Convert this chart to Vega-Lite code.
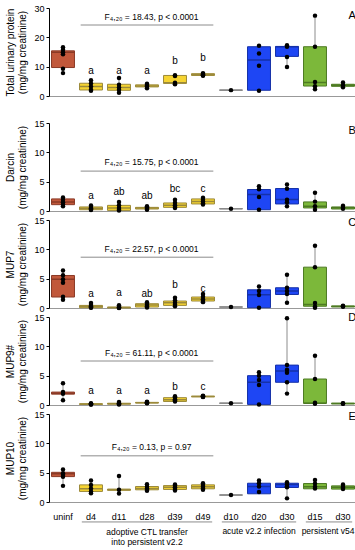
{
  "$schema": "https://vega.github.io/schema/vega-lite/v6.json",
  "padding": {"left": 5, "top": 4, "right": 2, "bottom": 2},
  "config": {
    "view": {"stroke": null},
    "font": "Liberation Sans",
    "axis": {"labelFont": "Liberation Sans", "titleFont": "Liberation Sans", "labelFontSize": 9, "titleFontSize": 10, "titleFontWeight": "normal", "labelColor": "#000", "titleColor": "#000", "grid": false, "domainColor": "#000", "tickColor": "#000", "tickSize": 3, "labelPadding": 2, "titlePadding": 6, "labelOverlap": false, "labelFlush": false},
    "axisY": {"tickCount": 3},
    "text": {"font": "Liberation Sans", "color": "#000"}
  },
  "datasets": {
    "box": [
      {"panel": "A", "grp": "uninf", "lo": 7.8, "q1": 9.7, "med": 14.9, "q3": 15.4, "hi": 16.6},
      {"panel": "A", "grp": "d4", "lo": 1.8, "q1": 2.05, "med": 3.2, "q3": 4.35, "hi": 5.4},
      {"panel": "A", "grp": "d11", "lo": 1.1, "q1": 1.95, "med": 2.9, "q3": 4.0, "hi": 6.1},
      {"panel": "A", "grp": "d28", "lo": 2.6, "q1": 3.1, "med": 3.4, "q3": 3.8, "hi": 4.2},
      {"panel": "A", "grp": "d39", "lo": 4.0, "q1": 4.3, "med": 4.5, "q3": 7.0, "hi": 7.1},
      {"panel": "A", "grp": "d49", "lo": 6.9, "q1": 7.0, "med": 7.3, "q3": 7.6, "hi": 7.8},
      {"panel": "A", "grp": "a_d10", "lo": 2.0, "q1": 2.0, "med": 2.0, "q3": 2.0, "hi": 2.0},
      {"panel": "A", "grp": "a_d20", "lo": 1.8, "q1": 1.95, "med": 12.3, "q3": 16.8, "hi": 17.1},
      {"panel": "A", "grp": "a_d30", "lo": 9.9, "q1": 13.5, "med": 16.8, "q3": 16.9, "hi": 17.3},
      {"panel": "A", "grp": "p_d15", "lo": 2.3, "q1": 3.4, "med": 4.6, "q3": 16.8, "hi": 27.4},
      {"panel": "A", "grp": "p_d30", "lo": 2.95, "q1": 3.3, "med": 3.7, "q3": 4.0, "hi": 4.6},
      {"panel": "B", "grp": "uninf", "lo": 0.8, "q1": 1.08, "med": 1.55, "q3": 2.06, "hi": 2.3},
      {"panel": "B", "grp": "d4", "lo": 0.15, "q1": 0.22, "med": 0.45, "q3": 0.69, "hi": 0.95},
      {"panel": "B", "grp": "d11", "lo": 0.1, "q1": 0.1, "med": 0.5, "q3": 0.96, "hi": 1.55},
      {"panel": "B", "grp": "d28", "lo": 0.2, "q1": 0.34, "med": 0.5, "q3": 0.62, "hi": 0.8},
      {"panel": "B", "grp": "d39", "lo": 0.5, "q1": 0.62, "med": 1.0, "q3": 1.37, "hi": 1.9},
      {"panel": "B", "grp": "d49", "lo": 1.1, "q1": 1.2, "med": 1.6, "q3": 2.06, "hi": 2.25},
      {"panel": "B", "grp": "a_d10", "lo": 0.4, "q1": 0.4, "med": 0.4, "q3": 0.4, "hi": 0.4},
      {"panel": "B", "grp": "a_d20", "lo": 0.2, "q1": 0.22, "med": 2.8, "q3": 3.66, "hi": 4.2},
      {"panel": "B", "grp": "a_d30", "lo": 0.8, "q1": 1.2, "med": 1.94, "q3": 3.83, "hi": 4.5},
      {"panel": "B", "grp": "p_d15", "lo": 0.2, "q1": 0.52, "med": 0.8, "q3": 1.55, "hi": 3.1},
      {"panel": "B", "grp": "p_d30", "lo": 0.3, "q1": 0.34, "med": 0.55, "q3": 0.69, "hi": 0.9},
      {"panel": "C", "grp": "uninf", "lo": 1.4, "q1": 1.87, "med": 4.9, "q3": 5.54, "hi": 6.4},
      {"panel": "C", "grp": "d4", "lo": 0.05, "q1": 0.05, "med": 0.25, "q3": 0.44, "hi": 0.85},
      {"panel": "C", "grp": "d11", "lo": 0.0, "q1": 0.03, "med": 0.08, "q3": 0.15, "hi": 0.45},
      {"panel": "C", "grp": "d28", "lo": 0.1, "q1": 0.17, "med": 0.5, "q3": 0.73, "hi": 1.0},
      {"panel": "C", "grp": "d39", "lo": 0.3, "q1": 0.44, "med": 0.9, "q3": 1.19, "hi": 1.75},
      {"panel": "C", "grp": "d49", "lo": 1.0, "q1": 1.19, "med": 1.55, "q3": 1.87, "hi": 2.4},
      {"panel": "C", "grp": "a_d10", "lo": 0.17, "q1": 0.17, "med": 0.17, "q3": 0.17, "hi": 0.17},
      {"panel": "C", "grp": "a_d20", "lo": 0.05, "q1": 0.05, "med": 2.26, "q3": 3.1, "hi": 3.67},
      {"panel": "C", "grp": "a_d30", "lo": 0.9, "q1": 2.3, "med": 2.9, "q3": 3.45, "hi": 5.65},
      {"panel": "C", "grp": "p_d15", "lo": 0.05, "q1": 0.3, "med": 0.6, "q3": 6.96, "hi": 10.6},
      {"panel": "C", "grp": "p_d30", "lo": 0.15, "q1": 0.2, "med": 0.27, "q3": 0.35, "hi": 0.4},
      {"panel": "D", "grp": "uninf", "lo": 0.8, "q1": 1.85, "med": 2.0, "q3": 2.2, "hi": 3.7},
      {"panel": "D", "grp": "d4", "lo": 0.1, "q1": 0.1, "med": 0.15, "q3": 0.2, "hi": 0.3},
      {"panel": "D", "grp": "d11", "lo": 0.1, "q1": 0.15, "med": 0.2, "q3": 0.3, "hi": 0.5},
      {"panel": "D", "grp": "d28", "lo": 0.3, "q1": 0.35, "med": 0.4, "q3": 0.45, "hi": 0.55},
      {"panel": "D", "grp": "d39", "lo": 0.55, "q1": 0.6, "med": 0.9, "q3": 1.25, "hi": 1.5},
      {"panel": "D", "grp": "d49", "lo": 1.35, "q1": 1.4, "med": 1.45, "q3": 1.5, "hi": 1.6},
      {"panel": "D", "grp": "a_d10", "lo": 0.3, "q1": 0.3, "med": 0.3, "q3": 0.3, "hi": 0.3},
      {"panel": "D", "grp": "a_d20", "lo": 0.1, "q1": 0.1, "med": 3.87, "q3": 5.0, "hi": 5.57},
      {"panel": "D", "grp": "a_d30", "lo": 1.94, "q1": 3.87, "med": 5.8, "q3": 6.8, "hi": 14.8},
      {"panel": "D", "grp": "p_d15", "lo": 0.2, "q1": 0.3, "med": 0.3, "q3": 4.43, "hi": 8.4},
      {"panel": "D", "grp": "p_d30", "lo": 0.2, "q1": 0.2, "med": 0.25, "q3": 0.3, "hi": 0.3},
      {"panel": "E", "grp": "uninf", "lo": 2.75, "q1": 4.33, "med": 4.8, "q3": 5.06, "hi": 5.56},
      {"panel": "E", "grp": "d4", "lo": 1.5, "q1": 1.8, "med": 2.25, "q3": 2.92, "hi": 3.65},
      {"panel": "E", "grp": "d11", "lo": 1.46, "q1": 2.0, "med": 2.1, "q3": 2.2, "hi": 4.44},
      {"panel": "E", "grp": "d28", "lo": 1.9, "q1": 2.08, "med": 2.3, "q3": 2.64, "hi": 3.03},
      {"panel": "E", "grp": "d39", "lo": 1.95, "q1": 2.14, "med": 2.5, "q3": 2.8, "hi": 3.0},
      {"panel": "E", "grp": "d49", "lo": 2.1, "q1": 2.25, "med": 2.6, "q3": 2.92, "hi": 3.2},
      {"panel": "E", "grp": "a_d10", "lo": 1.18, "q1": 1.18, "med": 1.18, "q3": 1.18, "hi": 1.18},
      {"panel": "E", "grp": "a_d20", "lo": 1.4, "q1": 1.4, "med": 2.64, "q3": 3.2, "hi": 3.65},
      {"panel": "E", "grp": "a_d30", "lo": 0.62, "q1": 2.47, "med": 3.0, "q3": 3.2, "hi": 3.37},
      {"panel": "E", "grp": "p_d15", "lo": 2.2, "q1": 2.25, "med": 2.6, "q3": 3.15, "hi": 3.76},
      {"panel": "E", "grp": "p_d30", "lo": 2.2, "q1": 2.2, "med": 2.5, "q3": 2.75, "hi": 3.0}
    ],
    "pts": [
      {"panel": "A", "grp": "uninf", "v": 16.6}, {"panel": "A", "grp": "uninf", "v": 15.8}, {"panel": "A", "grp": "uninf", "v": 14.9}, {"panel": "A", "grp": "uninf", "v": 14.2}, {"panel": "A", "grp": "uninf", "v": 9.3}, {"panel": "A", "grp": "uninf", "v": 7.8},
      {"panel": "A", "grp": "d4", "v": 5.4}, {"panel": "A", "grp": "d4", "v": 4.3}, {"panel": "A", "grp": "d4", "v": 3.2}, {"panel": "A", "grp": "d4", "v": 2.1}, {"panel": "A", "grp": "d4", "v": 1.8},
      {"panel": "A", "grp": "d11", "v": 6.1}, {"panel": "A", "grp": "d11", "v": 3.8}, {"panel": "A", "grp": "d11", "v": 2.9}, {"panel": "A", "grp": "d11", "v": 2.1}, {"panel": "A", "grp": "d11", "v": 1.1},
      {"panel": "A", "grp": "d28", "v": 4.2}, {"panel": "A", "grp": "d28", "v": 3.8}, {"panel": "A", "grp": "d28", "v": 3.5}, {"panel": "A", "grp": "d28", "v": 3.2}, {"panel": "A", "grp": "d28", "v": 2.6},
      {"panel": "A", "grp": "d39", "v": 7.1}, {"panel": "A", "grp": "d39", "v": 6.8}, {"panel": "A", "grp": "d39", "v": 4.5}, {"panel": "A", "grp": "d39", "v": 4.2}, {"panel": "A", "grp": "d39", "v": 4.0},
      {"panel": "A", "grp": "d49", "v": 7.8}, {"panel": "A", "grp": "d49", "v": 7.5}, {"panel": "A", "grp": "d49", "v": 7.3}, {"panel": "A", "grp": "d49", "v": 7.1}, {"panel": "A", "grp": "d49", "v": 6.9},
      {"panel": "A", "grp": "a_d10", "v": 2.0},
      {"panel": "A", "grp": "a_d20", "v": 17.1}, {"panel": "A", "grp": "a_d20", "v": 14.5}, {"panel": "A", "grp": "a_d20", "v": 10.3}, {"panel": "A", "grp": "a_d20", "v": 1.8},
      {"panel": "A", "grp": "a_d30", "v": 17.3}, {"panel": "A", "grp": "a_d30", "v": 16.8}, {"panel": "A", "grp": "a_d30", "v": 13.3}, {"panel": "A", "grp": "a_d30", "v": 9.9},
      {"panel": "A", "grp": "p_d15", "v": 27.4}, {"panel": "A", "grp": "p_d15", "v": 16.8}, {"panel": "A", "grp": "p_d15", "v": 4.8}, {"panel": "A", "grp": "p_d15", "v": 3.3}, {"panel": "A", "grp": "p_d15", "v": 2.3},
      {"panel": "A", "grp": "p_d30", "v": 4.6}, {"panel": "A", "grp": "p_d30", "v": 3.7}, {"panel": "A", "grp": "p_d30", "v": 2.95},
      {"panel": "B", "grp": "uninf", "v": 2.3}, {"panel": "B", "grp": "uninf", "v": 1.9}, {"panel": "B", "grp": "uninf", "v": 1.5}, {"panel": "B", "grp": "uninf", "v": 1.1}, {"panel": "B", "grp": "uninf", "v": 0.8},
      {"panel": "B", "grp": "d4", "v": 0.95}, {"panel": "B", "grp": "d4", "v": 0.7}, {"panel": "B", "grp": "d4", "v": 0.45}, {"panel": "B", "grp": "d4", "v": 0.25}, {"panel": "B", "grp": "d4", "v": 0.15},
      {"panel": "B", "grp": "d11", "v": 1.55}, {"panel": "B", "grp": "d11", "v": 1.0}, {"panel": "B", "grp": "d11", "v": 0.5}, {"panel": "B", "grp": "d11", "v": 0.2}, {"panel": "B", "grp": "d11", "v": 0.1},
      {"panel": "B", "grp": "d28", "v": 0.8}, {"panel": "B", "grp": "d28", "v": 0.6}, {"panel": "B", "grp": "d28", "v": 0.5}, {"panel": "B", "grp": "d28", "v": 0.35}, {"panel": "B", "grp": "d28", "v": 0.2},
      {"panel": "B", "grp": "d39", "v": 1.9}, {"panel": "B", "grp": "d39", "v": 1.4}, {"panel": "B", "grp": "d39", "v": 1.0}, {"panel": "B", "grp": "d39", "v": 0.7}, {"panel": "B", "grp": "d39", "v": 0.5},
      {"panel": "B", "grp": "d49", "v": 2.25}, {"panel": "B", "grp": "d49", "v": 1.9}, {"panel": "B", "grp": "d49", "v": 1.6}, {"panel": "B", "grp": "d49", "v": 1.3}, {"panel": "B", "grp": "d49", "v": 1.1},
      {"panel": "B", "grp": "a_d10", "v": 0.4},
      {"panel": "B", "grp": "a_d20", "v": 4.2}, {"panel": "B", "grp": "a_d20", "v": 3.7}, {"panel": "B", "grp": "a_d20", "v": 2.4}, {"panel": "B", "grp": "a_d20", "v": 0.2},
      {"panel": "B", "grp": "a_d30", "v": 4.5}, {"panel": "B", "grp": "a_d30", "v": 3.8}, {"panel": "B", "grp": "a_d30", "v": 1.9}, {"panel": "B", "grp": "a_d30", "v": 1.5}, {"panel": "B", "grp": "a_d30", "v": 0.8},
      {"panel": "B", "grp": "p_d15", "v": 3.1}, {"panel": "B", "grp": "p_d15", "v": 1.6}, {"panel": "B", "grp": "p_d15", "v": 0.8}, {"panel": "B", "grp": "p_d15", "v": 0.2},
      {"panel": "B", "grp": "p_d30", "v": 0.9}, {"panel": "B", "grp": "p_d30", "v": 0.6}, {"panel": "B", "grp": "p_d30", "v": 0.4},
      {"panel": "C", "grp": "uninf", "v": 6.4}, {"panel": "C", "grp": "uninf", "v": 5.6}, {"panel": "C", "grp": "uninf", "v": 4.9}, {"panel": "C", "grp": "uninf", "v": 4.3}, {"panel": "C", "grp": "uninf", "v": 1.9}, {"panel": "C", "grp": "uninf", "v": 1.4},
      {"panel": "C", "grp": "d4", "v": 0.85}, {"panel": "C", "grp": "d4", "v": 0.5}, {"panel": "C", "grp": "d4", "v": 0.3}, {"panel": "C", "grp": "d4", "v": 0.1}, {"panel": "C", "grp": "d4", "v": 0.05},
      {"panel": "C", "grp": "d11", "v": 0.45}, {"panel": "C", "grp": "d11", "v": 0.2}, {"panel": "C", "grp": "d11", "v": 0.1}, {"panel": "C", "grp": "d11", "v": 0.05}, {"panel": "C", "grp": "d11", "v": 0.0},
      {"panel": "C", "grp": "d28", "v": 1.0}, {"panel": "C", "grp": "d28", "v": 0.7}, {"panel": "C", "grp": "d28", "v": 0.5}, {"panel": "C", "grp": "d28", "v": 0.3}, {"panel": "C", "grp": "d28", "v": 0.1},
      {"panel": "C", "grp": "d39", "v": 1.75}, {"panel": "C", "grp": "d39", "v": 1.3}, {"panel": "C", "grp": "d39", "v": 0.9}, {"panel": "C", "grp": "d39", "v": 0.6}, {"panel": "C", "grp": "d39", "v": 0.3},
      {"panel": "C", "grp": "d49", "v": 2.4}, {"panel": "C", "grp": "d49", "v": 1.9}, {"panel": "C", "grp": "d49", "v": 1.5}, {"panel": "C", "grp": "d49", "v": 1.2}, {"panel": "C", "grp": "d49", "v": 1.0},
      {"panel": "C", "grp": "a_d10", "v": 0.17},
      {"panel": "C", "grp": "a_d20", "v": 3.67}, {"panel": "C", "grp": "a_d20", "v": 2.9}, {"panel": "C", "grp": "a_d20", "v": 2.2}, {"panel": "C", "grp": "a_d20", "v": 0.05},
      {"panel": "C", "grp": "a_d30", "v": 5.65}, {"panel": "C", "grp": "a_d30", "v": 3.45}, {"panel": "C", "grp": "a_d30", "v": 2.9}, {"panel": "C", "grp": "a_d30", "v": 2.4}, {"panel": "C", "grp": "a_d30", "v": 0.9},
      {"panel": "C", "grp": "p_d15", "v": 10.6}, {"panel": "C", "grp": "p_d15", "v": 6.96}, {"panel": "C", "grp": "p_d15", "v": 0.85}, {"panel": "C", "grp": "p_d15", "v": 0.25}, {"panel": "C", "grp": "p_d15", "v": 0.05},
      {"panel": "C", "grp": "p_d30", "v": 0.4}, {"panel": "C", "grp": "p_d30", "v": 0.3}, {"panel": "C", "grp": "p_d30", "v": 0.2},
      {"panel": "D", "grp": "uninf", "v": 3.7}, {"panel": "D", "grp": "uninf", "v": 2.2}, {"panel": "D", "grp": "uninf", "v": 1.9}, {"panel": "D", "grp": "uninf", "v": 0.8},
      {"panel": "D", "grp": "d4", "v": 0.3}, {"panel": "D", "grp": "d4", "v": 0.2}, {"panel": "D", "grp": "d4", "v": 0.15}, {"panel": "D", "grp": "d4", "v": 0.1}, {"panel": "D", "grp": "d4", "v": 0.1},
      {"panel": "D", "grp": "d11", "v": 0.5}, {"panel": "D", "grp": "d11", "v": 0.3}, {"panel": "D", "grp": "d11", "v": 0.2}, {"panel": "D", "grp": "d11", "v": 0.15}, {"panel": "D", "grp": "d11", "v": 0.1},
      {"panel": "D", "grp": "d28", "v": 0.55}, {"panel": "D", "grp": "d28", "v": 0.45}, {"panel": "D", "grp": "d28", "v": 0.4}, {"panel": "D", "grp": "d28", "v": 0.35}, {"panel": "D", "grp": "d28", "v": 0.3},
      {"panel": "D", "grp": "d39", "v": 1.5}, {"panel": "D", "grp": "d39", "v": 1.3}, {"panel": "D", "grp": "d39", "v": 1.0}, {"panel": "D", "grp": "d39", "v": 0.8}, {"panel": "D", "grp": "d39", "v": 0.6},
      {"panel": "D", "grp": "d49", "v": 1.6}, {"panel": "D", "grp": "d49", "v": 1.5}, {"panel": "D", "grp": "d49", "v": 1.45}, {"panel": "D", "grp": "d49", "v": 1.4}, {"panel": "D", "grp": "d49", "v": 1.35},
      {"panel": "D", "grp": "a_d10", "v": 0.3},
      {"panel": "D", "grp": "a_d20", "v": 5.57}, {"panel": "D", "grp": "a_d20", "v": 5.0}, {"panel": "D", "grp": "a_d20", "v": 4.26}, {"panel": "D", "grp": "a_d20", "v": 3.4}, {"panel": "D", "grp": "a_d20", "v": 0.1},
      {"panel": "D", "grp": "a_d30", "v": 14.8}, {"panel": "D", "grp": "a_d30", "v": 6.8}, {"panel": "D", "grp": "a_d30", "v": 6.0}, {"panel": "D", "grp": "a_d30", "v": 5.5}, {"panel": "D", "grp": "a_d30", "v": 3.87}, {"panel": "D", "grp": "a_d30", "v": 1.94},
      {"panel": "D", "grp": "p_d15", "v": 8.4}, {"panel": "D", "grp": "p_d15", "v": 4.43}, {"panel": "D", "grp": "p_d15", "v": 0.4}, {"panel": "D", "grp": "p_d15", "v": 0.2},
      {"panel": "D", "grp": "p_d30", "v": 0.3}, {"panel": "D", "grp": "p_d30", "v": 0.25}, {"panel": "D", "grp": "p_d30", "v": 0.2},
      {"panel": "E", "grp": "uninf", "v": 5.56}, {"panel": "E", "grp": "uninf", "v": 4.9}, {"panel": "E", "grp": "uninf", "v": 4.6}, {"panel": "E", "grp": "uninf", "v": 4.3}, {"panel": "E", "grp": "uninf", "v": 2.75},
      {"panel": "E", "grp": "d4", "v": 3.65}, {"panel": "E", "grp": "d4", "v": 2.9}, {"panel": "E", "grp": "d4", "v": 2.3}, {"panel": "E", "grp": "d4", "v": 1.8}, {"panel": "E", "grp": "d4", "v": 1.5},
      {"panel": "E", "grp": "d11", "v": 4.44}, {"panel": "E", "grp": "d11", "v": 2.1}, {"panel": "E", "grp": "d11", "v": 1.46},
      {"panel": "E", "grp": "d28", "v": 3.03}, {"panel": "E", "grp": "d28", "v": 2.6}, {"panel": "E", "grp": "d28", "v": 2.3}, {"panel": "E", "grp": "d28", "v": 2.1}, {"panel": "E", "grp": "d28", "v": 1.9},
      {"panel": "E", "grp": "d39", "v": 3.0}, {"panel": "E", "grp": "d39", "v": 2.8}, {"panel": "E", "grp": "d39", "v": 2.5}, {"panel": "E", "grp": "d39", "v": 2.2}, {"panel": "E", "grp": "d39", "v": 1.95},
      {"panel": "E", "grp": "d49", "v": 3.2}, {"panel": "E", "grp": "d49", "v": 2.9}, {"panel": "E", "grp": "d49", "v": 2.6}, {"panel": "E", "grp": "d49", "v": 2.3}, {"panel": "E", "grp": "d49", "v": 2.1},
      {"panel": "E", "grp": "a_d10", "v": 1.18},
      {"panel": "E", "grp": "a_d20", "v": 3.65}, {"panel": "E", "grp": "a_d20", "v": 3.2}, {"panel": "E", "grp": "a_d20", "v": 2.64}, {"panel": "E", "grp": "a_d20", "v": 1.7},
      {"panel": "E", "grp": "a_d30", "v": 3.37}, {"panel": "E", "grp": "a_d30", "v": 3.0}, {"panel": "E", "grp": "a_d30", "v": 2.7}, {"panel": "E", "grp": "a_d30", "v": 2.5}, {"panel": "E", "grp": "a_d30", "v": 0.62},
      {"panel": "E", "grp": "p_d15", "v": 3.76}, {"panel": "E", "grp": "p_d15", "v": 3.15}, {"panel": "E", "grp": "p_d15", "v": 2.6}, {"panel": "E", "grp": "p_d15", "v": 2.3},
      {"panel": "E", "grp": "p_d30", "v": 3.0}, {"panel": "E", "grp": "p_d30", "v": 2.6}, {"panel": "E", "grp": "p_d30", "v": 2.4}, {"panel": "E", "grp": "p_d30", "v": 2.2}
    ],
    "sig": [
      {"panel": "A", "grp": "d4", "t": "a", "y": 8.5}, {"panel": "A", "grp": "d11", "t": "a", "y": 8.5}, {"panel": "A", "grp": "d28", "t": "a", "y": 8.5}, {"panel": "A", "grp": "d39", "t": "b", "y": 11.8}, {"panel": "A", "grp": "d49", "t": "b", "y": 13.1},
      {"panel": "B", "grp": "d4", "t": "a", "y": 2.6}, {"panel": "B", "grp": "d11", "t": "ab", "y": 3.3}, {"panel": "B", "grp": "d28", "t": "ab", "y": 2.5}, {"panel": "B", "grp": "d39", "t": "bc", "y": 3.8}, {"panel": "B", "grp": "d49", "t": "c", "y": 3.8},
      {"panel": "C", "grp": "d4", "t": "a", "y": 2.4}, {"panel": "C", "grp": "d11", "t": "a", "y": 2.55}, {"panel": "C", "grp": "d28", "t": "ab", "y": 2.4}, {"panel": "C", "grp": "d39", "t": "b", "y": 3.85}, {"panel": "C", "grp": "d49", "t": "c", "y": 3.3},
      {"panel": "D", "grp": "d4", "t": "a", "y": 2.4}, {"panel": "D", "grp": "d11", "t": "a", "y": 2.4}, {"panel": "D", "grp": "d28", "t": "a", "y": 2.4}, {"panel": "D", "grp": "d39", "t": "b", "y": 3.1}, {"panel": "D", "grp": "d49", "t": "c", "y": 3.1}
    ],
    "stat": [
      {"panel": "A", "start": "d4", "end": "d49", "mid": "d28", "yl": 24.2, "yt": 26.8, "label": "F₄,₂₀ = 18.43, p < 0.0001"},
      {"panel": "B", "start": "d4", "end": "d49", "mid": "d28", "yl": 6.8, "yt": 8.35, "label": "F₄,₂₀ = 15.75, p < 0.0001"},
      {"panel": "C", "start": "d4", "end": "d49", "mid": "d28", "yl": 8.66, "yt": 10.1, "label": "F₄,₂₀ = 22.57, p < 0.0001"},
      {"panel": "D", "start": "d4", "end": "d49", "mid": "d28", "yl": 7.5, "yt": 8.9, "label": "F₄,₂₀ = 61.11, p < 0.0001"},
      {"panel": "E", "start": "d4", "end": "d49", "mid": "d28", "yl": 7.87, "yt": 9.4, "label": "F₄,₂₀ = 0.13, p = 0.97"}
    ],
    "plet": [
      {"panel": "A", "grp": "p_d30", "t": "A", "y": 27.3},
      {"panel": "B", "grp": "p_d30", "t": "B", "y": 13.6},
      {"panel": "C", "grp": "p_d30", "t": "C", "y": 14.5},
      {"panel": "D", "grp": "p_d30", "t": "D", "y": 14.8},
      {"panel": "E", "grp": "p_d30", "t": "E", "y": 14.5}
    ],
    "groups": [
      {"label": "adoptive CTL transfer\ninto persistent v2.2", "start": "d4", "end": "d49", "mid": "d28", "yl": -3.4, "yt": -4.4},
      {"label": "acute v2.2 infection", "start": "a_d10", "end": "a_d30", "mid": "a_d20", "yl": -3.4, "yt": -4.2},
      {"label": "persistent v54", "start": "p_d15", "end": "p_d30", "mid": "p_d15", "yl": -3.4, "yt": -4.2}
    ]
  },
  "vconcat": [
    {
      "width": 308, "height": 88,
      "layer": [
        {"data": {"name": "box"}, "transform": [{"filter": "datum.panel === 'A'"}], "mark": {"type": "rule", "color": "#8c8c8c", "strokeWidth": 1},
         "encoding": {"x": {"field": "grp", "type": "nominal", "sort": null, "scale": {"domain": ["uninf","d4","d11","d28","d39","d49","a_d10","a_d20","a_d30","p_d15","p_d30"], "paddingInner": 0.18, "paddingOuter": 0.09}, "axis": {"labels": false, "ticks": false, "domainColor": "#999", "title": null}},
                      "y": {"field": "lo", "type": "quantitative", "scale": {"domain": [0, 30], "nice": false}, "axis": {"tickCount": 3, "labelOverlap": false, "title": ["Total urinary protein", "(mg/mg creatinine)"]}},
                      "y2": {"field": "hi"}}},
        {"data": {"name": "box"}, "transform": [{"filter": "datum.panel === 'A'"}], "mark": {"type": "bar", "strokeWidth": 1},
         "encoding": {"x": {"field": "grp", "type": "nominal"}, "y": {"field": "q1", "type": "quantitative"}, "y2": {"field": "q3"},
                      "fill": {"field": "grp", "type": "nominal", "legend": null, "scale": {"domain": ["uninf","d4","d11","d28","d39","d49","a_d10","a_d20","a_d30","p_d15","p_d30"], "range": ["#c1583b","#f6d432","#f6d432","#f6d432","#f6d432","#f6d432","#9a9a9a","#1e46f4","#1e46f4","#7cb83a","#7cb83a"]}},
                      "stroke": {"field": "grp", "type": "nominal", "legend": null, "scale": {"domain": ["uninf","d4","d11","d28","d39","d49","a_d10","a_d20","a_d30","p_d15","p_d30"], "range": ["#8b3a26","#9c8a3a","#9c8a3a","#9c8a3a","#9c8a3a","#9c8a3a","#8a8a8a","#1531a8","#1531a8","#4d7a22","#4d7a22"]}}}},
        {"data": {"name": "box"}, "transform": [{"filter": "datum.panel === 'A'"}], "mark": {"type": "bar", "fillOpacity": 0, "strokeWidth": 1.5},
         "encoding": {"x": {"field": "grp", "type": "nominal"}, "y": {"field": "med", "type": "quantitative"}, "y2": {"field": "med"},
                      "stroke": {"field": "grp", "type": "nominal", "legend": null}}},
        {"data": {"name": "pts"}, "transform": [{"filter": "datum.panel === 'A'"}], "mark": {"type": "point", "filled": true, "color": "#000", "opacity": 1, "size": 20},
         "encoding": {"x": {"field": "grp", "type": "nominal"}, "y": {"field": "v", "type": "quantitative"}}},
        {"data": {"name": "sig"}, "transform": [{"filter": "datum.panel === 'A'"}], "mark": {"type": "text", "fontSize": 10, "baseline": "middle"},
         "encoding": {"x": {"field": "grp", "type": "nominal"}, "y": {"field": "y", "type": "quantitative"}, "text": {"field": "t"}}},
        {"data": {"name": "stat"}, "transform": [{"filter": "datum.panel === 'A'"}], "mark": {"type": "rule", "color": "#8c8c8c", "strokeWidth": 1},
         "encoding": {"x": {"field": "start", "type": "nominal", "bandPosition": 0.05}, "x2": {"field": "end", "bandPosition": 0.95}, "y": {"field": "yl", "type": "quantitative"}}},
        {"data": {"name": "stat"}, "transform": [{"filter": "datum.panel === 'A'"}], "mark": {"type": "text", "fontSize": 8.5, "baseline": "middle", "align": "center"},
         "encoding": {"x": {"field": "mid", "type": "nominal", "bandPosition": 0.7}, "y": {"field": "yt", "type": "quantitative"}, "text": {"field": "label"}}},
        {"data": {"name": "plet"}, "transform": [{"filter": "datum.panel === 'A'"}], "mark": {"type": "text", "fontSize": 11, "baseline": "middle", "align": "center"},
         "encoding": {"x": {"field": "grp", "type": "nominal", "bandPosition": 0.9}, "y": {"field": "y", "type": "quantitative"}, "text": {"field": "t"}}}
      ]
    },
    {
      "spacing": 9,
      "bounds": "flush",
      "vconcat": [
        {
          "width": 308, "height": 88,
          "layer": [
            {"data": {"name": "box"}, "transform": [{"filter": "datum.panel === 'B'"}], "mark": {"type": "rule", "color": "#8c8c8c", "strokeWidth": 1},
             "encoding": {"x": {"field": "grp", "type": "nominal", "sort": null, "scale": {"domain": ["uninf","d4","d11","d28","d39","d49","a_d10","a_d20","a_d30","p_d15","p_d30"], "paddingInner": 0.18, "paddingOuter": 0.09}, "axis": {"labels": false, "ticks": false, "domainColor": "#999", "title": null}},
                          "y": {"field": "lo", "type": "quantitative", "scale": {"domain": [0, 15], "nice": false}, "axis": {"tickCount": 3, "labelOverlap": false, "title": ["Darcin", "(mg/mg creatinine)"]}},
                          "y2": {"field": "hi"}}},
            {"data": {"name": "box"}, "transform": [{"filter": "datum.panel === 'B'"}], "mark": {"type": "bar", "strokeWidth": 1},
             "encoding": {"x": {"field": "grp", "type": "nominal"}, "y": {"field": "q1", "type": "quantitative"}, "y2": {"field": "q3"},
                          "fill": {"field": "grp", "type": "nominal", "legend": null, "scale": {"domain": ["uninf","d4","d11","d28","d39","d49","a_d10","a_d20","a_d30","p_d15","p_d30"], "range": ["#c1583b","#f6d432","#f6d432","#f6d432","#f6d432","#f6d432","#9a9a9a","#1e46f4","#1e46f4","#7cb83a","#7cb83a"]}},
                          "stroke": {"field": "grp", "type": "nominal", "legend": null, "scale": {"domain": ["uninf","d4","d11","d28","d39","d49","a_d10","a_d20","a_d30","p_d15","p_d30"], "range": ["#8b3a26","#9c8a3a","#9c8a3a","#9c8a3a","#9c8a3a","#9c8a3a","#8a8a8a","#1531a8","#1531a8","#4d7a22","#4d7a22"]}}}},
            {"data": {"name": "box"}, "transform": [{"filter": "datum.panel === 'B'"}], "mark": {"type": "bar", "fillOpacity": 0, "strokeWidth": 1.5},
             "encoding": {"x": {"field": "grp", "type": "nominal"}, "y": {"field": "med", "type": "quantitative"}, "y2": {"field": "med"},
                          "stroke": {"field": "grp", "type": "nominal", "legend": null}}},
            {"data": {"name": "pts"}, "transform": [{"filter": "datum.panel === 'B'"}], "mark": {"type": "point", "filled": true, "color": "#000", "opacity": 1, "size": 20},
             "encoding": {"x": {"field": "grp", "type": "nominal"}, "y": {"field": "v", "type": "quantitative"}}},
            {"data": {"name": "sig"}, "transform": [{"filter": "datum.panel === 'B'"}], "mark": {"type": "text", "fontSize": 10, "baseline": "middle"},
             "encoding": {"x": {"field": "grp", "type": "nominal"}, "y": {"field": "y", "type": "quantitative"}, "text": {"field": "t"}}},
            {"data": {"name": "stat"}, "transform": [{"filter": "datum.panel === 'B'"}], "mark": {"type": "rule", "color": "#8c8c8c", "strokeWidth": 1},
             "encoding": {"x": {"field": "start", "type": "nominal", "bandPosition": 0.05}, "x2": {"field": "end", "bandPosition": 0.95}, "y": {"field": "yl", "type": "quantitative"}}},
            {"data": {"name": "stat"}, "transform": [{"filter": "datum.panel === 'B'"}], "mark": {"type": "text", "fontSize": 8.5, "baseline": "middle", "align": "center"},
             "encoding": {"x": {"field": "mid", "type": "nominal", "bandPosition": 0.7}, "y": {"field": "yt", "type": "quantitative"}, "text": {"field": "label"}}},
            {"data": {"name": "plet"}, "transform": [{"filter": "datum.panel === 'B'"}], "mark": {"type": "text", "fontSize": 11, "baseline": "middle", "align": "center"},
             "encoding": {"x": {"field": "grp", "type": "nominal", "bandPosition": 0.9}, "y": {"field": "y", "type": "quantitative"}, "text": {"field": "t"}}}
          ]
        },
        {
          "width": 308, "height": 88,
          "layer": [
            {"data": {"name": "box"}, "transform": [{"filter": "datum.panel === 'C'"}], "mark": {"type": "rule", "color": "#8c8c8c", "strokeWidth": 1},
             "encoding": {"x": {"field": "grp", "type": "nominal", "sort": null, "scale": {"domain": ["uninf","d4","d11","d28","d39","d49","a_d10","a_d20","a_d30","p_d15","p_d30"], "paddingInner": 0.18, "paddingOuter": 0.09}, "axis": {"labels": false, "ticks": false, "domainColor": "#999", "title": null}},
                          "y": {"field": "lo", "type": "quantitative", "scale": {"domain": [0, 15], "nice": false}, "axis": {"tickCount": 3, "labelOverlap": false, "title": ["MUP7", "(mg/mg creatinine)"]}},
                          "y2": {"field": "hi"}}},
            {"data": {"name": "box"}, "transform": [{"filter": "datum.panel === 'C'"}], "mark": {"type": "bar", "strokeWidth": 1},
             "encoding": {"x": {"field": "grp", "type": "nominal"}, "y": {"field": "q1", "type": "quantitative"}, "y2": {"field": "q3"},
                          "fill": {"field": "grp", "type": "nominal", "legend": null, "scale": {"domain": ["uninf","d4","d11","d28","d39","d49","a_d10","a_d20","a_d30","p_d15","p_d30"], "range": ["#c1583b","#f6d432","#f6d432","#f6d432","#f6d432","#f6d432","#9a9a9a","#1e46f4","#1e46f4","#7cb83a","#7cb83a"]}},
                          "stroke": {"field": "grp", "type": "nominal", "legend": null, "scale": {"domain": ["uninf","d4","d11","d28","d39","d49","a_d10","a_d20","a_d30","p_d15","p_d30"], "range": ["#8b3a26","#9c8a3a","#9c8a3a","#9c8a3a","#9c8a3a","#9c8a3a","#8a8a8a","#1531a8","#1531a8","#4d7a22","#4d7a22"]}}}},
            {"data": {"name": "box"}, "transform": [{"filter": "datum.panel === 'C'"}], "mark": {"type": "bar", "fillOpacity": 0, "strokeWidth": 1.5},
             "encoding": {"x": {"field": "grp", "type": "nominal"}, "y": {"field": "med", "type": "quantitative"}, "y2": {"field": "med"},
                          "stroke": {"field": "grp", "type": "nominal", "legend": null}}},
            {"data": {"name": "pts"}, "transform": [{"filter": "datum.panel === 'C'"}], "mark": {"type": "point", "filled": true, "color": "#000", "opacity": 1, "size": 20},
             "encoding": {"x": {"field": "grp", "type": "nominal"}, "y": {"field": "v", "type": "quantitative"}}},
            {"data": {"name": "sig"}, "transform": [{"filter": "datum.panel === 'C'"}], "mark": {"type": "text", "fontSize": 10, "baseline": "middle"},
             "encoding": {"x": {"field": "grp", "type": "nominal"}, "y": {"field": "y", "type": "quantitative"}, "text": {"field": "t"}}},
            {"data": {"name": "stat"}, "transform": [{"filter": "datum.panel === 'C'"}], "mark": {"type": "rule", "color": "#8c8c8c", "strokeWidth": 1},
             "encoding": {"x": {"field": "start", "type": "nominal", "bandPosition": 0.05}, "x2": {"field": "end", "bandPosition": 0.95}, "y": {"field": "yl", "type": "quantitative"}}},
            {"data": {"name": "stat"}, "transform": [{"filter": "datum.panel === 'C'"}], "mark": {"type": "text", "fontSize": 8.5, "baseline": "middle", "align": "center"},
             "encoding": {"x": {"field": "mid", "type": "nominal", "bandPosition": 0.7}, "y": {"field": "yt", "type": "quantitative"}, "text": {"field": "label"}}},
            {"data": {"name": "plet"}, "transform": [{"filter": "datum.panel === 'C'"}], "mark": {"type": "text", "fontSize": 11, "baseline": "middle", "align": "center"},
             "encoding": {"x": {"field": "grp", "type": "nominal", "bandPosition": 0.9}, "y": {"field": "y", "type": "quantitative"}, "text": {"field": "t"}}}
          ]
        },
        {
          "width": 308, "height": 88,
          "layer": [
            {"data": {"name": "box"}, "transform": [{"filter": "datum.panel === 'D'"}], "mark": {"type": "rule", "color": "#8c8c8c", "strokeWidth": 1},
             "encoding": {"x": {"field": "grp", "type": "nominal", "sort": null, "scale": {"domain": ["uninf","d4","d11","d28","d39","d49","a_d10","a_d20","a_d30","p_d15","p_d30"], "paddingInner": 0.18, "paddingOuter": 0.09}, "axis": {"labels": false, "ticks": false, "domainColor": "#999", "title": null}},
                          "y": {"field": "lo", "type": "quantitative", "scale": {"domain": [0, 15], "nice": false}, "axis": {"tickCount": 3, "labelOverlap": false, "title": ["MUP9#", "(mg/mg creatinine)"]}},
                          "y2": {"field": "hi"}}},
            {"data": {"name": "box"}, "transform": [{"filter": "datum.panel === 'D'"}], "mark": {"type": "bar", "strokeWidth": 1},
             "encoding": {"x": {"field": "grp", "type": "nominal"}, "y": {"field": "q1", "type": "quantitative"}, "y2": {"field": "q3"},
                          "fill": {"field": "grp", "type": "nominal", "legend": null, "scale": {"domain": ["uninf","d4","d11","d28","d39","d49","a_d10","a_d20","a_d30","p_d15","p_d30"], "range": ["#c1583b","#f6d432","#f6d432","#f6d432","#f6d432","#f6d432","#9a9a9a","#1e46f4","#1e46f4","#7cb83a","#7cb83a"]}},
                          "stroke": {"field": "grp", "type": "nominal", "legend": null, "scale": {"domain": ["uninf","d4","d11","d28","d39","d49","a_d10","a_d20","a_d30","p_d15","p_d30"], "range": ["#8b3a26","#9c8a3a","#9c8a3a","#9c8a3a","#9c8a3a","#9c8a3a","#8a8a8a","#1531a8","#1531a8","#4d7a22","#4d7a22"]}}}},
            {"data": {"name": "box"}, "transform": [{"filter": "datum.panel === 'D'"}], "mark": {"type": "bar", "fillOpacity": 0, "strokeWidth": 1.5},
             "encoding": {"x": {"field": "grp", "type": "nominal"}, "y": {"field": "med", "type": "quantitative"}, "y2": {"field": "med"},
                          "stroke": {"field": "grp", "type": "nominal", "legend": null}}},
            {"data": {"name": "pts"}, "transform": [{"filter": "datum.panel === 'D'"}], "mark": {"type": "point", "filled": true, "color": "#000", "opacity": 1, "size": 20},
             "encoding": {"x": {"field": "grp", "type": "nominal"}, "y": {"field": "v", "type": "quantitative"}}},
            {"data": {"name": "sig"}, "transform": [{"filter": "datum.panel === 'D'"}], "mark": {"type": "text", "fontSize": 10, "baseline": "middle"},
             "encoding": {"x": {"field": "grp", "type": "nominal"}, "y": {"field": "y", "type": "quantitative"}, "text": {"field": "t"}}},
            {"data": {"name": "stat"}, "transform": [{"filter": "datum.panel === 'D'"}], "mark": {"type": "rule", "color": "#8c8c8c", "strokeWidth": 1},
             "encoding": {"x": {"field": "start", "type": "nominal", "bandPosition": 0.05}, "x2": {"field": "end", "bandPosition": 0.95}, "y": {"field": "yl", "type": "quantitative"}}},
            {"data": {"name": "stat"}, "transform": [{"filter": "datum.panel === 'D'"}], "mark": {"type": "text", "fontSize": 8.5, "baseline": "middle", "align": "center"},
             "encoding": {"x": {"field": "mid", "type": "nominal", "bandPosition": 0.7}, "y": {"field": "yt", "type": "quantitative"}, "text": {"field": "label"}}},
            {"data": {"name": "plet"}, "transform": [{"filter": "datum.panel === 'D'"}], "mark": {"type": "text", "fontSize": 11, "baseline": "middle", "align": "center"},
             "encoding": {"x": {"field": "grp", "type": "nominal", "bandPosition": 0.9}, "y": {"field": "y", "type": "quantitative"}, "text": {"field": "t"}}}
          ]
        },
        {
          "width": 308, "height": 88,
          "layer": [
            {"data": {"name": "box"}, "transform": [{"filter": "datum.panel === 'E'"}], "mark": {"type": "rule", "color": "#8c8c8c", "strokeWidth": 1},
             "encoding": {"x": {"field": "grp", "type": "nominal", "sort": null, "scale": {"domain": ["uninf","d4","d11","d28","d39","d49","a_d10","a_d20","a_d30","p_d15","p_d30"], "paddingInner": 0.18, "paddingOuter": 0.09}, "axis": {"labels": true, "ticks": false, "domainColor": "#999", "title": null, "labelAngle": 0, "labelPadding": 10, "labelFontSize": 9, "labelExpr": "slice(datum.label, indexof(datum.label, '_') + 1)"}},
                          "y": {"field": "lo", "type": "quantitative", "scale": {"domain": [0, 15], "nice": false}, "axis": {"tickCount": 3, "labelOverlap": false, "title": ["MUP10", "(mg/mg creatinine)"]}},
                          "y2": {"field": "hi"}}},
            {"data": {"name": "box"}, "transform": [{"filter": "datum.panel === 'E'"}], "mark": {"type": "bar", "strokeWidth": 1},
             "encoding": {"x": {"field": "grp", "type": "nominal"}, "y": {"field": "q1", "type": "quantitative"}, "y2": {"field": "q3"},
                          "fill": {"field": "grp", "type": "nominal", "legend": null, "scale": {"domain": ["uninf","d4","d11","d28","d39","d49","a_d10","a_d20","a_d30","p_d15","p_d30"], "range": ["#c1583b","#f6d432","#f6d432","#f6d432","#f6d432","#f6d432","#9a9a9a","#1e46f4","#1e46f4","#7cb83a","#7cb83a"]}},
                          "stroke": {"field": "grp", "type": "nominal", "legend": null, "scale": {"domain": ["uninf","d4","d11","d28","d39","d49","a_d10","a_d20","a_d30","p_d15","p_d30"], "range": ["#8b3a26","#9c8a3a","#9c8a3a","#9c8a3a","#9c8a3a","#9c8a3a","#8a8a8a","#1531a8","#1531a8","#4d7a22","#4d7a22"]}}}},
            {"data": {"name": "box"}, "transform": [{"filter": "datum.panel === 'E'"}], "mark": {"type": "bar", "fillOpacity": 0, "strokeWidth": 1.5},
             "encoding": {"x": {"field": "grp", "type": "nominal"}, "y": {"field": "med", "type": "quantitative"}, "y2": {"field": "med"},
                          "stroke": {"field": "grp", "type": "nominal", "legend": null}}},
            {"data": {"name": "pts"}, "transform": [{"filter": "datum.panel === 'E'"}], "mark": {"type": "point", "filled": true, "color": "#000", "opacity": 1, "size": 20},
             "encoding": {"x": {"field": "grp", "type": "nominal"}, "y": {"field": "v", "type": "quantitative"}}},
            {"data": {"name": "stat"}, "transform": [{"filter": "datum.panel === 'E'"}], "mark": {"type": "rule", "color": "#8c8c8c", "strokeWidth": 1},
             "encoding": {"x": {"field": "start", "type": "nominal", "bandPosition": 0.05}, "x2": {"field": "end", "bandPosition": 0.95}, "y": {"field": "yl", "type": "quantitative"}}},
            {"data": {"name": "stat"}, "transform": [{"filter": "datum.panel === 'E'"}], "mark": {"type": "text", "fontSize": 8.5, "baseline": "middle", "align": "center"},
             "encoding": {"x": {"field": "mid", "type": "nominal", "bandPosition": 0.7}, "y": {"field": "yt", "type": "quantitative"}, "text": {"field": "label"}}},
            {"data": {"name": "plet"}, "transform": [{"filter": "datum.panel === 'E'"}], "mark": {"type": "text", "fontSize": 11, "baseline": "middle", "align": "center"},
             "encoding": {"x": {"field": "grp", "type": "nominal", "bandPosition": 0.9}, "y": {"field": "y", "type": "quantitative"}, "text": {"field": "t"}}},
            {"data": {"name": "groups"}, "mark": {"type": "rule", "color": "#8c8c8c", "strokeWidth": 1},
             "encoding": {"x": {"field": "start", "type": "nominal", "bandPosition": 0.1}, "x2": {"field": "end", "bandPosition": 0.9}, "y": {"field": "yl", "type": "quantitative"}}},
            {"data": {"name": "groups"}, "transform": [{"filter": "datum.label !== 'persistent v54'"}], "mark": {"type": "text", "fontSize": 8.5, "baseline": "top", "align": "center", "lineBreak": "\n", "lineHeight": 10.5},
             "encoding": {"x": {"field": "mid", "type": "nominal", "bandPosition": 0.5}, "y": {"field": "yt", "type": "quantitative"}, "text": {"field": "label"}}},
            {"data": {"name": "groups"}, "transform": [{"filter": "datum.label === 'persistent v54'"}], "mark": {"type": "text", "fontSize": 8.5, "baseline": "top", "align": "center"},
             "encoding": {"x": {"field": "mid", "type": "nominal", "bandPosition": 1.07}, "y": {"field": "yt", "type": "quantitative"}, "text": {"field": "label"}}}
          ]
        }
      ]
    }
  ],
  "spacing": 27,
  "bounds": "flush"
}
